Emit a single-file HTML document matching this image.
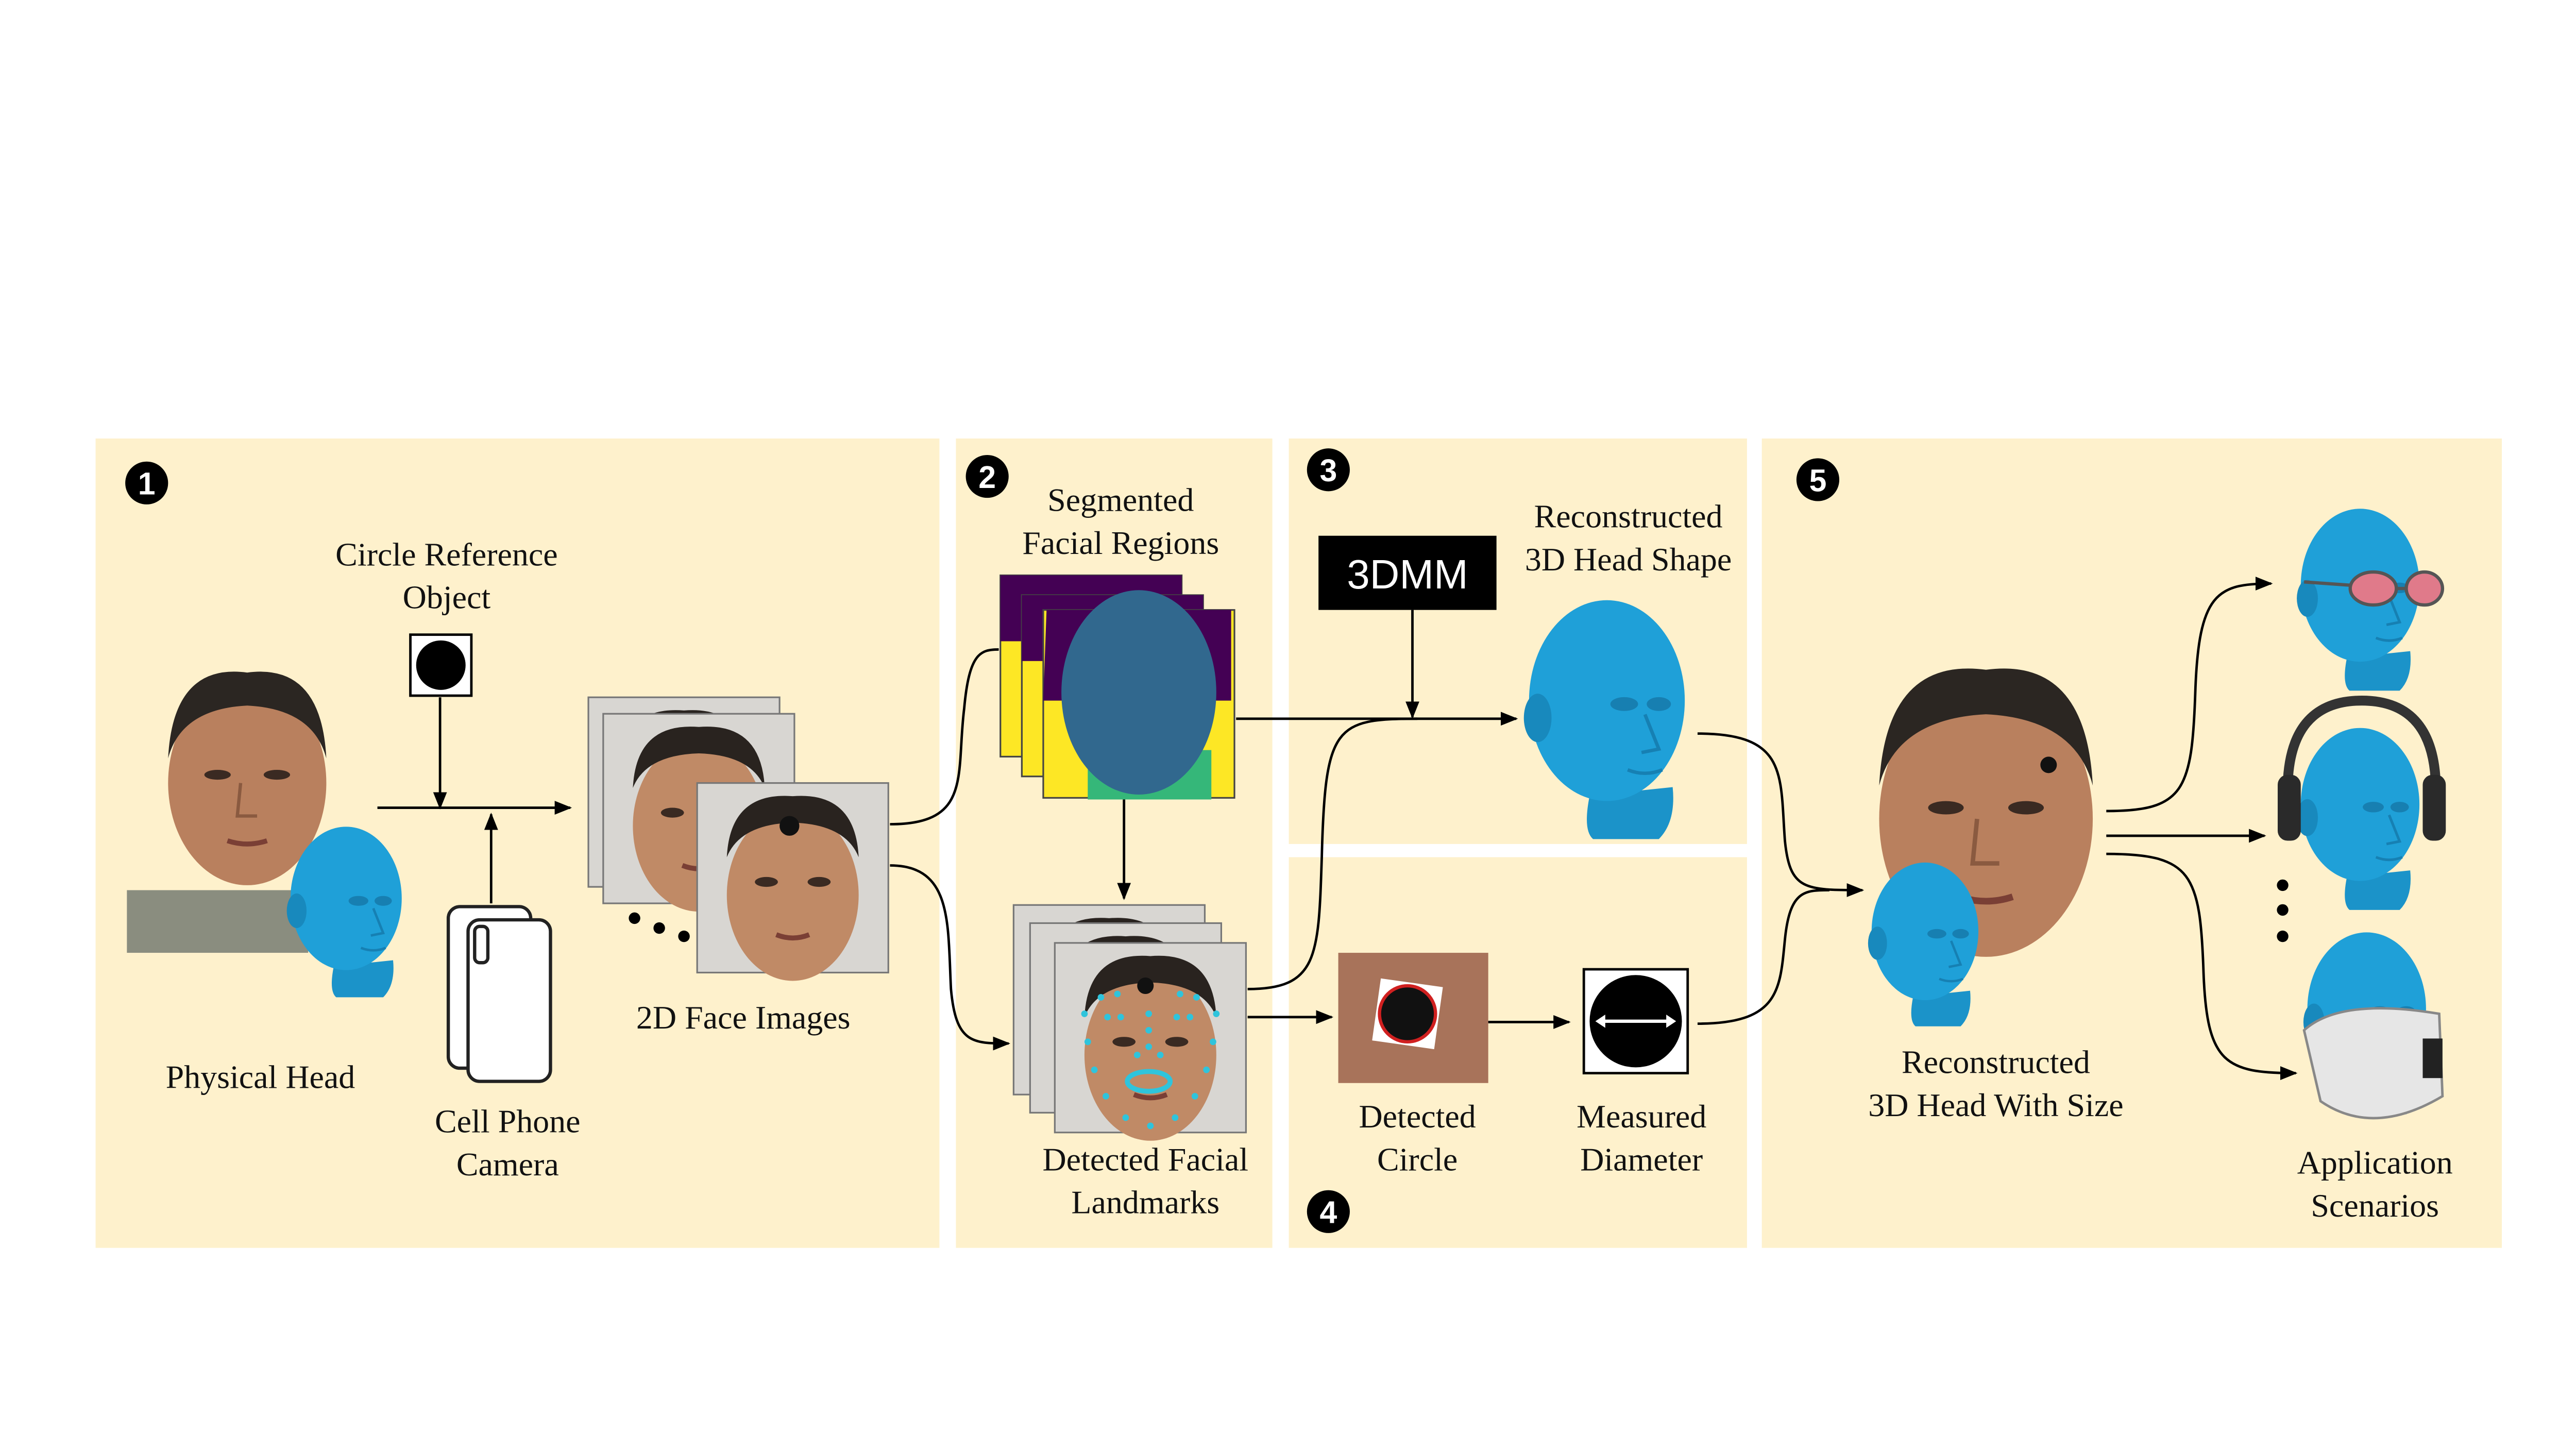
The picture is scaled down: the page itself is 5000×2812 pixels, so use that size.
<!DOCTYPE html>
<html><head><meta charset="utf-8"><style>
html,body{margin:0;padding:0;background:#fff;}
svg{display:block;}
text{font-family:"Liberation Serif",serif;fill:#111;}
</style></head><body>
<svg width="5000" height="2812" viewBox="0 0 1563 879" xmlns="http://www.w3.org/2000/svg">
<defs>
<marker id="ah" viewBox="0 0 10 10" refX="9" refY="5" markerWidth="7" markerHeight="7" orient="auto-start-reverse"><path d="M0,1 L10,5 L0,9 z" fill="#000"/></marker>
<g id="bluehead">
<path d="M-10,55 Q-14,75 -8,80 L30,80 Q40,70 38,50 Z" fill="#1b93c9"/>
<ellipse cx="0" cy="0" rx="45" ry="58" fill="#1fa0d8"/>
<ellipse cx="-40" cy="10" rx="8" ry="14" fill="#1889bd"/>
<ellipse cx="10" cy="2" rx="8" ry="4" fill="#177fb1"/><ellipse cx="30" cy="2" rx="7" ry="4" fill="#177fb1"/>
<path d="M22,8 L30,28 L20,30" fill="none" stroke="#1680b3" stroke-width="2"/>
<path d="M12,40 Q22,44 32,40" fill="none" stroke="#1680b3" stroke-width="2"/>
</g>
<g id="realface">
<ellipse cx="0" cy="5" rx="48" ry="62" fill="#b9805e"/>
<path d="M-48,-10 Q-45,-68 0,-62 Q45,-68 48,-10 Q40,-40 0,-42 Q-40,-40 -48,-10 Z" fill="#2b2622"/>
<ellipse cx="-18" cy="0" rx="8" ry="3" fill="#3a2a22"/><ellipse cx="18" cy="0" rx="8" ry="3" fill="#3a2a22"/>
<path d="M-4,5 L-6,25 L6,25" fill="none" stroke="#8a5a40" stroke-width="2"/>
<path d="M-12,40 Q0,44 12,40" fill="none" stroke="#7a3f35" stroke-width="3"/>
</g>
<g id="faceimg">
<rect x="0" y="0" width="116" height="115" fill="#d8d6d2" stroke="#777" stroke-width="1"/>
<ellipse cx="58" cy="68" rx="40" ry="52" fill="#c08a66"/>
<path d="M18,45 Q20,5 58,8 Q96,5 98,45 Q90,25 58,24 Q26,25 18,45 Z" fill="#29231f"/>
<ellipse cx="42" cy="60" rx="7" ry="3" fill="#3a2a22"/><ellipse cx="74" cy="60" rx="7" ry="3" fill="#3a2a22"/>
<path d="M48,92 Q58,96 68,92" fill="none" stroke="#7a3f35" stroke-width="3"/>
</g>
</defs>

<!-- Panels -->
<rect x="58" y="266" width="512" height="491" fill="#fef1cc"/>
<rect x="580" y="266" width="192" height="491" fill="#fef1cc"/>
<rect x="782" y="266" width="278" height="246" fill="#fef1cc"/>
<rect x="782" y="520" width="278" height="237" fill="#fef1cc"/>
<rect x="1069" y="266" width="449" height="491" fill="#fef1cc"/>

<!-- Badges -->
<g><circle cx="89" cy="293" r="13" fill="#000"/><text x="89" y="300" font-family="Liberation Sans" font-weight="bold" font-size="19" text-anchor="middle" style="fill:#fff;font-family:'Liberation Sans',sans-serif">1</text></g>
<g><circle cx="599" cy="289" r="13" fill="#000"/><text x="599" y="296" font-weight="bold" font-size="19" text-anchor="middle" style="fill:#fff;font-family:'Liberation Sans',sans-serif">2</text></g>
<g><circle cx="806" cy="285" r="13" fill="#000"/><text x="806" y="292" font-weight="bold" font-size="19" text-anchor="middle" style="fill:#fff;font-family:'Liberation Sans',sans-serif">3</text></g>
<g><circle cx="806" cy="735" r="13" fill="#000"/><text x="806" y="742" font-weight="bold" font-size="19" text-anchor="middle" style="fill:#fff;font-family:'Liberation Sans',sans-serif">4</text></g>
<g><circle cx="1103" cy="291" r="13" fill="#000"/><text x="1103" y="298" font-weight="bold" font-size="19" text-anchor="middle" style="fill:#fff;font-family:'Liberation Sans',sans-serif">5</text></g>

<!-- Panel 1 -->
<g font-size="20">
<text x="271" y="343" text-anchor="middle">Circle Reference</text>
<text x="271" y="369" text-anchor="middle">Object</text>
<text x="158" y="660" text-anchor="middle">Physical Head</text>
<text x="308" y="687" text-anchor="middle">Cell Phone</text>
<text x="308" y="713" text-anchor="middle">Camera</text>
<text x="451" y="624" text-anchor="middle">2D Face Images</text>
</g>
<g>
<rect x="249" y="385" width="37" height="37" fill="#fff" stroke="#000" stroke-width="1.5"/><circle cx="267.5" cy="403.5" r="15" fill="#000"/></g>
<g>
<rect x="77" y="540" width="110" height="38" fill="#8a8d7f"/>
<use href="#realface" transform="translate(150,470)"/>
<use href="#bluehead" transform="translate(210,545) scale(0.75)"/>
</g>
<g fill="#fff" stroke="#222" stroke-width="2">
<rect x="272" y="550" width="50" height="98" rx="7"/>
<rect x="284" y="558" width="50" height="98" rx="7"/>
<rect x="288" y="562" width="8" height="22" rx="3" fill="#fff"/>
</g>
<path d="M229,490 L346,490" stroke="#000" stroke-width="1.5" marker-end="url(#ah)"/>
<path d="M267,423 L267,490" stroke="#000" stroke-width="1.5" marker-end="url(#ah)"/>
<path d="M298,548 L298,494" stroke="#000" stroke-width="1.5" marker-end="url(#ah)"/>
<g>
<use href="#faceimg" transform="translate(357,423)"/>
<use href="#faceimg" transform="translate(366,433)"/>
<use href="#faceimg" transform="translate(423,475)"/>
<circle cx="479" cy="501" r="6" fill="#111"/>
<circle cx="385" cy="557" r="3.5" fill="#000"/><circle cx="400" cy="563" r="3.5" fill="#000"/><circle cx="415" cy="568" r="3.5" fill="#000"/>
</g>
<path d="M540,500 C590,500 580,470 585,430 C588,396 595,394 606,394" fill="none" stroke="#000" stroke-width="1.5"/>
<path d="M540,525 C578,525 575,560 577,600 C580,633 590,633 612,633" fill="none" stroke="#000" stroke-width="1.5" marker-end="url(#ah)"/>

<!-- Panel 2 -->
<text x="680" y="310" font-size="20" text-anchor="middle">Segmented</text>
<text x="680" y="336" font-size="20" text-anchor="middle">Facial Regions</text>
<g>
<rect x="607" y="349" width="110" height="110" fill="#fde725" stroke="#444" stroke-width="1"/><rect x="607" y="349" width="110" height="40" fill="#440154"/>
<rect x="620" y="361" width="110" height="110" fill="#fde725" stroke="#444" stroke-width="1"/><rect x="620" y="361" width="110" height="40" fill="#440154"/>
<rect x="633" y="370" width="116" height="114" fill="#fde725" stroke="#444" stroke-width="1"/>
<path d="M635,370 L747,370 L747,425 L633,425 Z" fill="#440154"/>
<path d="M660,485 L660,455 L735,455 L735,485 Z" fill="#35b779"/>
<ellipse cx="691" cy="420" rx="47" ry="62" fill="#31688e"/>
</g>
<path d="M682,485 L682,545" stroke="#000" stroke-width="1.5" marker-end="url(#ah)"/>
<g>
<use href="#faceimg" transform="translate(615,549)"/>
<use href="#faceimg" transform="translate(625,560)"/>
<use href="#faceimg" transform="translate(640,572)"/>
<circle cx="695" cy="598" r="5" fill="#111"/>
<g fill="#2fc4dc">
<circle cx="658" cy="615" r="2"/><circle cx="660" cy="632" r="2"/><circle cx="664" cy="649" r="2"/><circle cx="671" cy="665" r="2"/><circle cx="683" cy="678" r="2"/><circle cx="698" cy="683" r="2"/><circle cx="713" cy="678" r="2"/><circle cx="725" cy="665" r="2"/><circle cx="732" cy="649" r="2"/><circle cx="736" cy="632" r="2"/><circle cx="738" cy="615" r="2"/>
<circle cx="668" cy="605" r="2"/><circle cx="678" cy="603" r="2"/><circle cx="716" cy="603" r="2"/><circle cx="726" cy="605" r="2"/>
<circle cx="672" cy="617" r="2"/><circle cx="680" cy="617" r="2"/><circle cx="714" cy="617" r="2"/><circle cx="722" cy="617" r="2"/>
<circle cx="697" cy="615" r="2"/><circle cx="697" cy="625" r="2"/><circle cx="697" cy="635" r="2"/><circle cx="690" cy="640" r="2"/><circle cx="704" cy="640" r="2"/>
<ellipse cx="697" cy="656" rx="13" ry="6" fill="none" stroke="#2fc4dc" stroke-width="3"/>
</g></g>
<text x="695" y="710" font-size="20" text-anchor="middle">Detected Facial</text>
<text x="695" y="736" font-size="20" text-anchor="middle">Landmarks</text>

<!-- Panel 3 -->
<g><rect x="800" y="325" width="108" height="45" fill="#000"/>
<text x="854" y="357" font-size="25" text-anchor="middle" style="fill:#fff;font-family:'Liberation Sans',sans-serif">3DMM</text></g>
<text x="988" y="320" font-size="20" text-anchor="middle">Reconstructed</text>
<text x="988" y="346" font-size="20" text-anchor="middle">3D Head Shape</text>
<use href="#bluehead" transform="translate(975,425) scale(1.05)"/>
<path d="M857,370 L857,435" stroke="#000" stroke-width="1.5" marker-end="url(#ah)"/>
<path d="M750,436 L920,436" stroke="#000" stroke-width="1.5" marker-end="url(#ah)"/>
<path d="M757,600 C800,600 800,580 802,520 C804,440 810,436 860,436" fill="none" stroke="#000" stroke-width="1.5"/>
<path d="M757,617 L808,617" stroke="#000" stroke-width="1.5" marker-end="url(#ah)"/>

<!-- Panel 4 -->
<g><rect x="812" y="578" width="91" height="79" fill="#a8735a"/><rect x="835" y="596" width="38" height="38" fill="#fff" transform="rotate(8 854 615)"/><circle cx="854" cy="615" r="17" fill="#111" stroke="#d02020" stroke-width="2"/></g>
<path d="M903,620 L952,620" stroke="#000" stroke-width="1.5" marker-end="url(#ah)"/>
<g><rect x="961" y="588" width="63" height="63" fill="#fff" stroke="#000" stroke-width="1.5"/><circle cx="992.5" cy="619.5" r="28" fill="#000"/>
<path d="M970,619.5 L1015,619.5" stroke="#fff" stroke-width="2" marker-start="url(#ahw)" /></g>
<path d="M968,619.5 l6,-4 l0,8z M1017,619.5 l-6,-4 l0,8z" fill="#fff"/>
<text x="860" y="684" font-size="20" text-anchor="middle">Detected</text>
<text x="860" y="710" font-size="20" text-anchor="middle">Circle</text>
<text x="996" y="684" font-size="20" text-anchor="middle">Measured</text>
<text x="996" y="710" font-size="20" text-anchor="middle">Diameter</text>
<path d="M1030,445 C1085,445 1080,470 1083,510 C1086,540 1095,540 1130,540" fill="none" stroke="#000" stroke-width="1.5" marker-end="url(#ah)"/>
<path d="M1030,621 C1080,621 1080,600 1083,570 C1086,540 1095,540 1110,540" fill="none" stroke="#000" stroke-width="1.5"/>

<!-- Panel 5 -->
<g>
<use href="#realface" transform="translate(1205,490) scale(1.35)"/>
<circle cx="1243" cy="464" r="5" fill="#111"/>
<use href="#bluehead" transform="translate(1168,565) scale(0.72)"/>
</g>
<text x="1211" y="651" font-size="20" text-anchor="middle">Reconstructed</text>
<text x="1211" y="677" font-size="20" text-anchor="middle">3D Head With Size</text>
<path d="M1278,492 C1325,492 1330,480 1332,420 C1334,360 1345,354 1378,354" fill="none" stroke="#000" stroke-width="1.5" marker-end="url(#ah)"/>
<path d="M1278,507 L1374,507" stroke="#000" stroke-width="1.5" marker-end="url(#ah)"/>
<path d="M1278,518 C1330,518 1335,530 1337,590 C1339,645 1350,651 1393,651" fill="none" stroke="#000" stroke-width="1.5" marker-end="url(#ah)"/>
<g><use href="#bluehead" transform="translate(1432,355) scale(0.8)"/>
<ellipse cx="1440" cy="357" rx="14" ry="10" fill="#e07a8a" stroke="#555" stroke-width="2"/><ellipse cx="1471" cy="357" rx="11" ry="10" fill="#e07a8a" stroke="#555" stroke-width="2"/><path d="M1398,353 L1426,355 M1454,357 L1460,357" stroke="#555" stroke-width="2"/></g>
<g><use href="#bluehead" transform="translate(1432,488) scale(0.8)"/>
<path d="M1388,480 Q1388,425 1433,425 Q1478,425 1478,480" fill="none" stroke="#333" stroke-width="6"/><rect x="1382" y="470" width="14" height="40" rx="6" fill="#2a2a2a"/><rect x="1470" y="470" width="14" height="40" rx="6" fill="#2a2a2a"/></g>
<g fill="#000"><circle cx="1385" cy="537" r="3.5"/><circle cx="1385" cy="552" r="3.5"/><circle cx="1385" cy="568" r="3.5"/></g>
<g><use href="#bluehead" transform="translate(1436,612) scale(0.8)"/>
<path d="M1398,625 Q1420,605 1480,615 L1482,665 Q1440,690 1408,668 Z" fill="#e6e6e6" stroke="#888" stroke-width="1.5"/><rect x="1470" y="630" width="12" height="24" fill="#222"/></g>
<text x="1441" y="712" font-size="20" text-anchor="middle">Application</text>
<text x="1441" y="738" font-size="20" text-anchor="middle">Scenarios</text>
</svg>
</body></html>
